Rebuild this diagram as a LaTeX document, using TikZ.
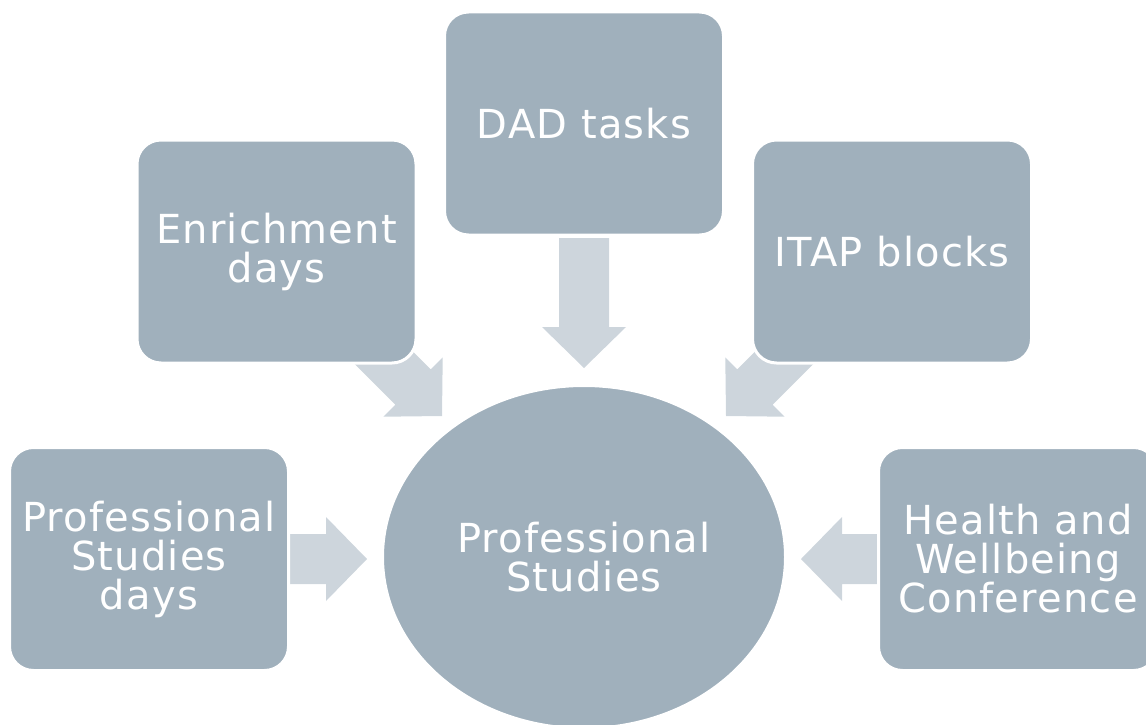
\documentclass[tikz,border=0pt]{standalone}
\usepackage{fontspec}
\setmainfont{DejaVu Sans}[LetterSpace=3]
\usetikzlibrary{shapes.geometric}
\definecolor{boxfill}{RGB}{160,176,188}
\definecolor{arrowfill}{RGB}{205,213,220}
% block arrow with its tip at #1, pointing at angle #2, total length #3
\newcommand\blockarrow[3]{%
  \fill[arrowfill, shift={(#1)}, rotate=#2]
    (-#3,-25) -- (-41,-25) -- (-41,-42) -- (0,0) -- (-41,42) -- (-41,25) -- (-#3,25) -- cycle;}
\begin{document}
\begin{tikzpicture}[x=1pt,y=-1pt,
  every node/.style={text=white, font=\fontsize{40}{39}\selectfont, align=center},
  box/.style={rectangle, rounded corners=24pt, fill=boxfill, draw=white, line width=3pt,
    minimum width=279pt, minimum height=223pt, inner sep=0pt},
  hub/.style={ellipse, fill=boxfill, draw=white, line width=2pt,
    minimum width=402pt, minimum height=342pt, inner sep=0pt}]
\useasboundingbox (0,0) rectangle (1146,725);
\clip (0,0) rectangle (1146,725);
% arrow tips
\coordinate (tdown) at (584,368);
\coordinate (tleft) at (367,559);
\coordinate (tright) at (801,559);
\coordinate (tnw) at (442,416);
\coordinate (tne) at (726,416);
\blockarrow{tdown}{-90}{130}
\blockarrow{tleft}{0}{80}
\blockarrow{tright}{180}{80}
\blockarrow{tnw}{-45}{130}
\blockarrow{tne}{-135}{130}
% boxes and hub
\node[box] (enrich) at (276.5,251.5) {Enrichment\\days};
\node[box] (dad) at (584,123.5) {DAD tasks};
\node[box] (itap) at (892,251.5) {ITAP blocks};
\node[box] (psdays) at (149,559) {Professional\\Studies\\days};
\node[box] (health) at (1018,559) {Health and\\Wellbeing\\Conference};
\node[hub] (ps) at (584,557) {Professional\\Studies};
\end{tikzpicture}
\end{document}
